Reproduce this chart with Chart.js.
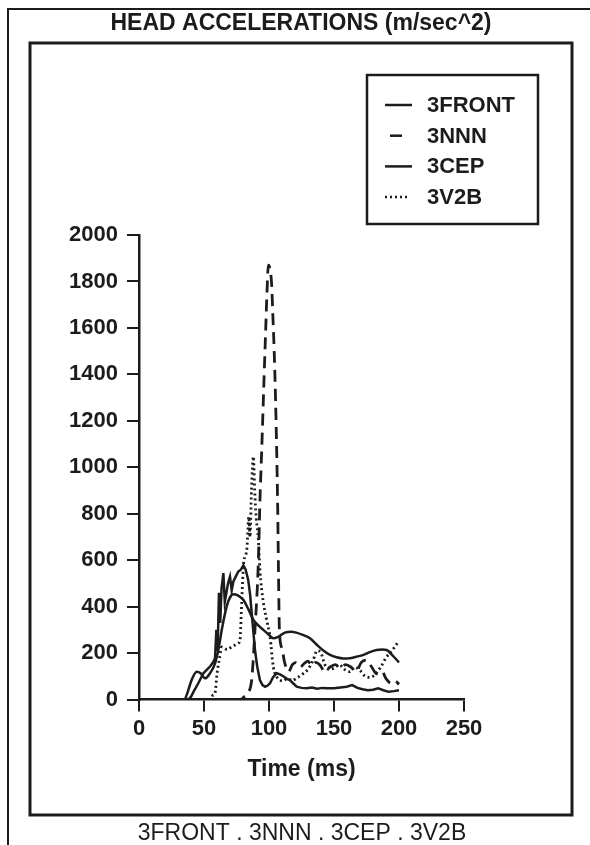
<!DOCTYPE html>
<html>
<head>
<meta charset="utf-8">
<title>Head accelerations</title>
<script src="https://cdn.jsdelivr.net/npm/chart.js@4.4.0/dist/chart.umd.min.js"></script>
<style>
  html, body { margin: 0; padding: 0; background: #fff; }
  #wrap { width: 590px; height: 845px; }
</style>
</head>
<body>
<div id="wrap"><canvas id="headChart" width="590" height="845"></canvas></div>
<script>
// Head acceleration traces (m/sec^2 vs ms)

const chartTitle = 'HEAD ACCELERATIONS (m/sec^2)';
const footerText = '3FRONT . 3NNN . 3CEP . 3V2B';
const seriesNames = ['3FRONT', '3NNN', '3CEP', '3V2B'];

const timeTicks = [0, 50, 100, 150, 200, 250];
const accelTicks = [0, 200, 400, 600, 800, 1000, 1200, 1400, 1600, 1800, 2000];

// 3FRONT (solid, jagged)
const frontTime = [0, 38, 40, 42, 45.6, 49.5, 54.6, 57, 58.5, 59.5,
  60.5, 61.5, 62.5, 63.5, 64.9, 66, 67.4, 68.5, 70, 71.3,
  72.6, 74.5, 76.4, 78.5, 80.3, 82, 84, 85.5, 86.7, 88,
  89.2, 91, 93, 95, 97, 99, 100.8, 103, 105.9, 108.5,
  111, 113.5, 116, 118.5, 121.3, 125, 129, 133, 137, 141,
  145, 150, 155, 159.7, 164, 168, 172, 176, 180, 184,
  188, 192, 196, 200];
const frontAccel = [0, 0, 12, 34, 70, 113, 142, 160, 178, 300,
  210, 460, 330, 480, 544, 420, 465, 500, 529, 470,
  508, 530, 551, 560, 578, 560, 515, 450, 371, 290,
  213, 140, 84, 62, 55, 60, 70, 95, 113, 108,
  100, 90, 84, 70, 55, 50, 48, 52, 46, 50,
  48, 48, 52, 55, 62, 50, 44, 40, 42, 48,
  40, 33, 36, 40];

// 3NNN (dashed)
const nnnTime = [0, 78, 81, 84, 86.7, 89.2, 91.8, 93, 94.4, 96,
  97.5, 98.5, 99.5, 100.5, 102, 103, 104, 105, 105.9, 106.7,
  107.3, 108, 110, 112, 115, 118, 121, 124, 127, 130,
  133, 136, 139, 143, 147, 151, 155, 159, 163, 167,
  171, 175, 179, 183, 187, 190, 194, 197, 200];
const nnnAccel = [0, 0, 12, 30, 85, 300, 590, 850, 1075, 1350,
  1600, 1760, 1870, 1860, 1790, 1650, 1500, 1300, 1075, 820,
  550, 300, 220, 160, 120, 150, 160, 140, 155, 165,
  145, 160, 150, 120, 140, 150, 135, 150, 140, 120,
  160, 170, 140, 110, 120, 90, 70, 80, 65];

// 3CEP (solid, smooth)
const cepTime = [0, 35, 36.7, 40.5, 44.4, 47.4, 50.8, 54.6, 58.5, 61,
  64, 67.4, 70, 72.6, 76, 80.2, 84, 88, 92, 95.6,
  99, 103.3, 107, 112.3, 117, 121, 126, 131.5, 136, 141.8,
  147, 152, 157, 162, 167, 172.6, 177, 182.8, 187, 190.5,
  195, 200];
const cepAccel = [0, 0, 20, 84, 120, 113, 91, 113, 156, 213,
  310, 400, 440, 453, 448, 429, 390, 343, 318, 300,
  283, 264, 270, 288, 292, 288, 278, 264, 240, 211,
  192, 182, 177, 178, 184, 192, 203, 213, 215, 213,
  190, 160];

// 3V2B (dotted)
const v2bTime = [0, 55, 57, 58.5, 60, 62, 63.6, 65, 68, 71,
  74, 76.5, 77.7, 79, 80.5, 81.5, 83, 84.5, 85.4, 86.5,
  88, 89, 90.2, 91.8, 93, 95.6, 98.2, 100.8, 103.3, 105.9,
  108, 111, 114, 118, 122, 126, 130, 134, 137, 140,
  143, 146, 150, 154, 158, 162, 166, 170, 174, 178,
  182, 186, 190, 193, 196.5, 199.5];
const v2bAccel = [0, 0, 20, 28, 110, 180, 226, 222, 215, 225,
  235, 243, 256, 420, 588, 614, 650, 786, 700, 900,
  1046, 900, 780, 690, 560, 420, 343, 270, 141, 98,
  85, 80, 90, 82, 95, 110, 130, 170, 210, 200,
  150, 130, 135, 150, 130, 120, 140, 125, 100, 95,
  110, 140, 180, 199, 225, 249];

const INK = '#1c1c1c';
const FONT = '"Liberation Sans", Arial, Helvetica, sans-serif';

function toPoints(times, values) {
  return times.map((t, i) => ({ x: t, y: values[i] }));
}

// Page frames, title and footer
const pagePlugin = {
  id: 'page',
  beforeDraw(chart) {
    const ctx = chart.ctx;
    ctx.save();
    ctx.fillStyle = '#fff';
    ctx.fillRect(0, 0, chart.width, chart.height);
    ctx.restore();
  },
  afterDraw(chart) {
    const ctx = chart.ctx;
    ctx.save();
    ctx.strokeStyle = INK;
    ctx.lineWidth = 2;
    ctx.beginPath();
    ctx.moveTo(8, 845);
    ctx.lineTo(8, 9);
    ctx.lineTo(590, 9);
    ctx.stroke();

    ctx.lineWidth = 3;
    ctx.strokeRect(30, 43, 542, 772);

    ctx.fillStyle = INK;
    ctx.textAlign = 'center';
    ctx.textBaseline = 'middle';
    ctx.font = `bold 23px ${FONT}`;
    ctx.fillText(chartTitle, 301, 24);
    ctx.font = `23px ${FONT}`;
    ctx.fillText(footerText, 302, 834);
    ctx.restore();
  }
};

// Boxed legend above the plot, top right
const boxLegendPlugin = {
  id: 'boxLegend',
  afterDraw(chart) {
    const ctx = chart.ctx;
    const samples = [[385, 412], [390, 402], [385, 412], [385, 409]];
    ctx.save();
    ctx.strokeStyle = INK;
    ctx.lineWidth = 2.5;
    ctx.strokeRect(367, 75, 171, 149);

    ctx.font = `bold 22px ${FONT}`;
    ctx.fillStyle = INK;
    ctx.textAlign = 'left';
    ctx.textBaseline = 'middle';
    chart.data.datasets.forEach((ds, i) => {
      const y = 105 + i * 30.7;
      ctx.lineWidth = 2.5;
      ctx.setLineDash(ds.borderDash && ds.borderDash[0] < 5 ? ds.borderDash : []);
      ctx.beginPath();
      ctx.moveTo(samples[i][0], y);
      ctx.lineTo(samples[i][1], y);
      ctx.stroke();
      ctx.setLineDash([]);
      ctx.fillText(ds.label, 427, y + 1);
    });
    ctx.restore();
  }
};

const axisGrid = {
  drawOnChartArea: false,
  drawTicks: true,
  tickLength: 12,
  color: INK,
  lineWidth: 2
};

const ctx = document.getElementById('headChart');

new Chart(ctx, {
  type: 'line',
  data: {
    datasets: [
      {
        label: seriesNames[0],
        data: toPoints(frontTime, frontAccel),
        borderColor: INK,
        borderWidth: 2.5,
        tension: 0,
        pointRadius: 0
      },
      {
        label: seriesNames[1],
        data: toPoints(nnnTime, nnnAccel),
        borderColor: INK,
        borderWidth: 2.8,
        borderDash: [12, 7],
        cubicInterpolationMode: 'monotone',
        pointRadius: 0
      },
      {
        label: seriesNames[2],
        data: toPoints(cepTime, cepAccel),
        borderColor: INK,
        borderWidth: 2.5,
        cubicInterpolationMode: 'monotone',
        pointRadius: 0
      },
      {
        label: seriesNames[3],
        data: toPoints(v2bTime, v2bAccel),
        borderColor: INK,
        borderWidth: 2.8,
        borderDash: [2, 3],
        cubicInterpolationMode: 'monotone',
        pointRadius: 0
      }
    ]
  },
  options: {
    responsive: false,
    animation: false,
    layout: {
      padding: { left: 59, right: 126, top: 235, bottom: 35.5 }
    },
    plugins: {
      legend: { display: false },
      title: { display: false },
      tooltip: { enabled: false }
    },
    scales: {
      x: {
        type: 'linear',
        min: 0,
        max: 250,
        afterBuildTicks: (axis) => { axis.ticks = timeTicks.map(v => ({ value: v })); },
        afterFit: (scale) => { scale.height = 110; },
        grid: axisGrid,
        border: { color: INK, width: 2.5 },
        ticks: {
          color: INK,
          padding: 4,
          maxRotation: 0,
          callback: (value) => String(value),
          font: { family: FONT, size: 22, weight: 'bold' }
        },
        title: {
          display: true,
          text: 'Time (ms)',
          color: INK,
          font: { family: FONT, size: 23, weight: 'bold' },
          padding: { top: 0, bottom: 26 }
        }
      },
      y: {
        min: 0,
        max: 2000,
        afterBuildTicks: (axis) => { axis.ticks = accelTicks.map(v => ({ value: v })); },
        afterFit: (scale) => { scale.width = 80; },
        grid: axisGrid,
        border: { color: INK, width: 2.5 },
        ticks: {
          color: INK,
          padding: 9,
          callback: (value) => String(value),
          font: { family: FONT, size: 22, weight: 'bold' }
        }
      }
    }
  },
  plugins: [pagePlugin, boxLegendPlugin]
});
</script>
</body>
</html>
